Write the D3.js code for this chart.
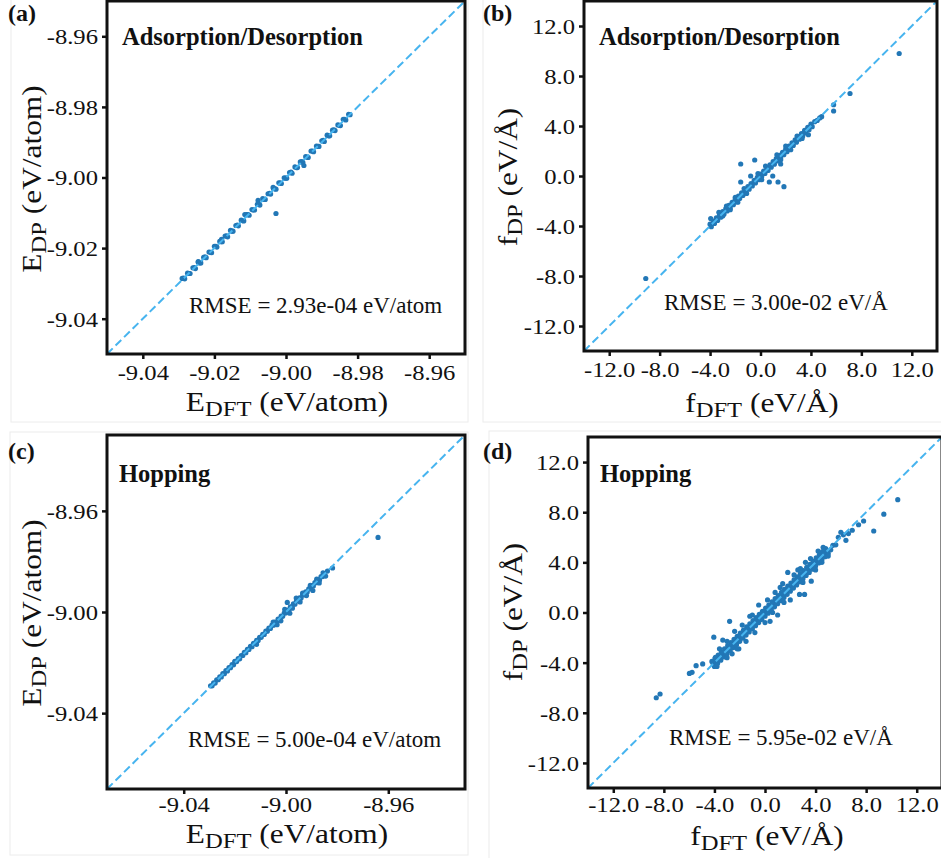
<!DOCTYPE html>
<html>
<head>
<meta charset="utf-8">
<script src="https://cdn.jsdelivr.net/npm/d3@7"></script>
<style>
body{margin:0;background:#fff;}
svg text{font-family:'Liberation Serif','Tinos','Times New Roman','DejaVu Serif',serif;fill:#111;}
</style>
</head>
<body>
<svg id="fig" width="941" height="858"></svg>
<script>
// ---- (a) energies, adsorption/desorption (eV/atom)
var adsEDft = [-9.029,-9.0275,-9.026,-9.0245,-9.023,-9.0215,-9.020,-9.0185,-9.017,-9.0155,-9.014,-9.0125,-9.011,-9.0095,-9.008,-9.0065,-9.005,-9.0035,-9.002,-9.0005,-8.999,-8.9975,-8.996,-8.9945,-8.993,-8.9915,-8.990,-8.9885,-8.987,-8.9855,-8.984,-8.9825,
  -9.0283,-9.0268,-9.0253,-9.0238,-9.0223,-9.0208,-9.0193,-9.0178,-9.0163,-9.0148,-9.0133,-9.0118,-9.0103,-9.0088,-9.0073,-9.0058,-9.0043,-9.0028,-9.0013,-8.9998,-8.9983,-8.9968,-8.9953,-8.9938,-8.9923,-8.9908,-8.9893,-8.9878,-8.9863,-8.9848,-8.9833,
  -9.0286,-9.0271,-9.0256,-9.0241,-9.0226,-9.0211,-9.0196,-9.0181,-9.0166,-9.0151,-9.0136,-9.0121,-9.0106,-9.0091,-9.0076,-9.0061,-9.0046,-9.0031,-9.0016,-9.0001,-8.9986,-8.9971,-8.9956,-8.9941,-8.9926,-8.9911,-8.9896,-8.9881,-8.9866,-8.9851,-8.9836,-8.9821,
  -9.0078,-9.0036,-8.995,-9.0028,-9.0115,-9.018,-9.0245];
var adsEDp = [-9.0286,-9.0271,-9.0256,-9.0240,-9.0226,-9.0211,-9.0195,-9.0181,-9.0166,-9.0150,-9.0136,-9.0121,-9.0105,-9.0091,-9.0076,-9.0060,-9.0046,-9.0031,-9.0015,-9.0001,-8.9986,-8.9970,-8.9956,-8.9941,-8.9925,-8.9911,-8.9896,-8.9880,-8.9866,-8.9851,-8.9835,-8.9821,
  -9.0287,-9.0272,-9.0258,-9.0242,-9.0227,-9.0213,-9.0197,-9.0182,-9.0168,-9.0152,-9.0137,-9.0123,-9.0107,-9.0092,-9.0078,-9.0062,-9.0047,-9.0033,-9.0017,-9.0002,-8.9988,-8.9972,-8.9957,-8.9943,-8.9927,-8.9912,-8.9898,-8.9882,-8.9867,-8.9853,-8.9837,
  -9.0285,-9.0272,-9.0255,-9.0242,-9.0225,-9.0212,-9.0195,-9.0182,-9.0165,-9.0152,-9.0135,-9.0122,-9.0105,-9.0092,-9.0075,-9.0062,-9.0045,-9.0032,-9.0015,-9.0002,-8.9985,-8.9972,-8.9955,-8.9942,-8.9925,-8.9912,-8.9895,-8.9882,-8.9865,-8.9852,-8.9835,-8.9822,
  -9.0065,-9.0028,-8.9966,-9.0102,-9.0105,-9.0175,-9.0238];

// ---- (b) forces, adsorption/desorption (eV/A)
var adsFDft = [-4.0,-3.75,-3.5,-3.25,-3.0,-2.75,-2.5,-2.25,-2.0,-1.75,-1.5,-1.25,-1.0,-0.75,-0.5,-0.25,0.0,0.25,0.5,0.75,1.0,1.25,1.5,1.75,2.0,2.25,2.5,2.75,3.0,3.25,3.5,3.75,4.0,
  -3.9,-3.65,-3.4,-3.15,-2.9,-2.65,-2.4,-2.15,-1.9,-1.65,-1.4,-1.15,-0.9,-0.65,-0.4,-0.15,0.1,0.35,0.6,0.85,1.1,1.35,1.6,1.85,2.1,2.35,2.6,2.85,3.1,3.35,3.6,3.85,4.1,
  4.3,4.5,4.7,4.85,3.8,-3.95,-9.1,11.0,7.1,5.8,5.8,
  -1.57,-0.46,-0.78,-1.57,0.97,1.6,0.7,1.39,1.86,
  -3.3,-3.0,-2.7,-2.4,-2.0,-1.8,-1.3,-1.1,-0.2,0.1,0.4,1.3,1.6,2.0,2.4,2.9,3.3,3.5];
var adsFDp = [-3.85,-3.6,-3.35,-3.1,-2.85,-2.6,-2.35,-2.1,-1.85,-1.6,-1.35,-1.1,-0.85,-0.6,-0.35,-0.1,0.15,0.4,0.65,0.9,1.15,1.4,1.65,1.9,2.15,2.4,2.65,2.9,3.15,3.4,3.65,3.9,4.15,
  -4.05,-3.8,-3.55,-3.3,-3.05,-2.8,-2.55,-2.3,-2.05,-1.8,-1.55,-1.3,-1.05,-0.8,-0.55,-0.3,-0.05,0.2,0.45,0.7,0.95,1.2,1.45,1.7,1.95,2.2,2.45,2.7,2.95,3.2,3.45,3.7,3.95,
  4.35,4.45,4.65,4.75,3.3,-3.4,-8.2,9.8,6.6,5.7,5.2,
  0.96,1.28,0.0,-0.48,0.0,0.96,-0.48,-0.48,-0.85,
  -2.9,-3.2,-2.4,-2.7,-1.7,-2.1,-1.0,-1.4,0.2,-0.3,0.8,1.7,1.3,2.4,2.1,3.2,3.0,3.5];

// ---- (c) energies, hopping (eV/atom)
var hopEDft = [-9.0295,-9.0283,-9.0271,-9.0259,-9.0247,-9.0235,-9.0223,-9.0211,-9.0199,-9.0187,-9.0175,-9.0163,-9.0151,-9.0139,-9.0127,-9.0115,-9.0103,-9.0091,-9.0079,-9.0067,-9.0055,-9.0043,-9.0031,-9.0019,-9.0007,-8.9995,-8.9983,-8.9971,-8.9959,-8.9947,-8.9935,-8.9923,-8.9911,-8.9899,-8.9887,-8.9875,-8.9863,-8.9851,
  -9.0289,-9.0277,-9.0265,-9.0253,-9.0241,-9.0229,-9.0217,-9.0205,-9.0193,-9.0181,-9.0169,-9.0157,-9.0145,-9.0133,-9.0121,-9.0109,-9.0097,-9.0085,-9.0073,-9.0061,-9.0049,-9.0037,-9.0025,-9.0013,-9.0001,-8.9989,-8.9977,-8.9965,-8.9953,-8.9941,-8.9929,-8.9917,-8.9905,-8.9893,-8.9881,-8.9869,-8.9857,
  -8.964,-8.9818,-8.9838,-8.9845,-8.9855,-8.987,-8.988,-8.9895,-8.9905,-8.992,-8.9935,-8.9945,-8.996,-8.9975,-8.9995,-8.9985,-9.0005,-9.002,-9.005,-9.0035,-9.0115,-9.020];
var hopEDp = [-9.0292,-9.0280,-9.0268,-9.0256,-9.0244,-9.0232,-9.0220,-9.0208,-9.0196,-9.0184,-9.0172,-9.0160,-9.0148,-9.0136,-9.0124,-9.0112,-9.0100,-9.0088,-9.0076,-9.0064,-9.0052,-9.0040,-9.0028,-9.0016,-9.0004,-8.9992,-8.9980,-8.9968,-8.9956,-8.9944,-8.9932,-8.9920,-8.9908,-8.9896,-8.9884,-8.9872,-8.9860,-8.9848,
  -9.0292,-9.0281,-9.0268,-9.0257,-9.0244,-9.0233,-9.0220,-9.0209,-9.0196,-9.0185,-9.0172,-9.0161,-9.0148,-9.0137,-9.0124,-9.0113,-9.0100,-9.0089,-9.0076,-9.0065,-9.0052,-9.0041,-9.0028,-9.0017,-9.0004,-8.9993,-8.9980,-8.9969,-8.9956,-8.9945,-8.9932,-8.9921,-8.9908,-8.9897,-8.9884,-8.9873,-8.9860,
  -8.9705,-8.9826,-8.9838,-8.9858,-8.9845,-8.9885,-8.9870,-8.9915,-8.9895,-8.9935,-8.9925,-8.9960,-8.9945,-8.9985,-8.9962,-9.0005,-8.9990,-9.0035,-9.0040,-9.0050,-9.0128,-9.0195];

// ---- (d) forces, hopping (eV/A)
var hopFDft = [-4.2,-3.95,-3.7,-3.45,-3.2,-2.95,-2.7,-2.45,-2.2,-1.95,-1.7,-1.45,-1.2,-0.95,-0.7,-0.45,-0.2,0.05,0.3,0.55,0.8,1.05,1.3,1.55,1.8,2.05,2.3,2.55,2.8,3.05,3.3,3.55,3.8,4.05,4.3,4.55,4.8,
  -4.1,-3.85,-3.6,-3.35,-3.1,-2.85,-2.6,-2.35,-2.1,-1.85,-1.6,-1.35,-1.1,-0.85,-0.6,-0.35,-0.1,0.15,0.4,0.65,0.9,1.15,1.4,1.65,1.9,2.15,2.4,2.65,2.9,3.15,3.4,3.65,3.9,4.15,4.4,4.65,4.9,
  -4.0,-3.75,-3.5,-3.25,-3.0,-2.75,-2.5,-2.25,-2.0,-1.75,-1.5,-1.25,-1.0,-0.75,-0.5,-0.25,0.0,0.25,0.5,0.75,1.0,1.25,1.5,1.75,2.0,2.25,2.5,2.75,3.0,3.25,3.5,3.75,4.0,4.25,4.5,4.75,5.0,
  -8.6,-8.3,10.5,9.4,8.6,7.8,7.4,6.9,6.4,6.2,6.0,5.8,5.6,5.37,5.2,6.6,3.66,3.13,2.73,1.8,-2.07,-2.8,-4.05,-3.34,-5.45,-4.93,-5.77,-5.98,-3.92,
  -0.5,0.4,-1.2,1.0,2.0,2.6,3.2,-1.5,-2.4,1.4,0.2,-0.8,4.2,4.5,-3.0,-3.6,
  -3.0,-2.2,-1.0,0.0,0.8,1.5,2.3,3.0,3.6,4.0,-3.8,-2.6,-1.8,0.6,1.2,2.8,4.6,5.0];
var hopFDp = [-3.9,-3.65,-3.4,-3.15,-2.9,-2.65,-2.4,-2.15,-1.9,-1.65,-1.4,-1.15,-0.9,-0.65,-0.4,-0.15,0.1,0.35,0.6,0.85,1.1,1.35,1.6,1.85,2.1,2.35,2.6,2.85,3.1,3.35,3.6,3.85,4.1,4.35,4.6,4.85,5.1,
  -4.1,-3.85,-3.6,-3.35,-3.1,-2.85,-2.6,-2.35,-2.1,-1.85,-1.6,-1.35,-1.1,-0.85,-0.6,-0.35,-0.1,0.15,0.4,0.65,0.9,1.15,1.4,1.65,1.9,2.15,2.4,2.65,2.9,3.15,3.4,3.65,3.9,4.15,4.4,4.65,4.9,
  -4.3,-4.05,-3.8,-3.55,-3.3,-3.05,-2.8,-2.55,-2.3,-2.05,-1.8,-1.55,-1.3,-1.05,-0.8,-0.55,-0.3,-0.05,0.2,0.45,0.7,0.95,1.2,1.45,1.7,1.95,2.2,2.45,2.7,2.95,3.2,3.45,3.7,3.95,4.2,4.45,4.7,
  -6.8,-6.5,9.0,7.84,6.5,7.3,7.0,6.56,5.76,6.2,6.4,6.0,5.4,5.36,5.0,6.3,2.5,1.44,1.44,3.2,-2.9,-0.7,-1.97,-2.2,-4.24,-4.1,-4.77,-4.86,-3.57,
  0.6,-0.7,-0.3,-0.2,1.0,3.4,4.0,-2.3,-1.5,2.3,1.0,-1.6,4.9,4.0,-3.6,-2.9,
  -2.3,-2.9,-0.2,-0.8,1.6,0.8,3.0,2.4,4.3,3.4,-4.3,-3.3,-1.0,0.0,2.0,3.5,5.2,4.5];

// tick values
var eTicksA = [-9.04, -9.02, -9.00, -8.98, -8.96];
var eTicksC = [-9.04, -9.00, -8.96];
var fTicks = [-12, -8, -4, 0, 4, 8, 12];

var FONT = "'Liberation Serif','Tinos','Times New Roman','DejaVu Serif',serif";
var WIDE = 1.12;   // the source lettering is a bit wider than Liberation Serif
var svg = d3.select('#fig');

// faint frames around the four sub-figures
var boxes = [[11, -2, 468, 422], [483, -2, 945, 422], [10, 432, 468, 855], [489, 431, 945, 862]];
svg.selectAll('rect.box').data(boxes).enter().append('rect')
  .attr('class', 'box')
  .attr('x', function(d) { return d[0]; }).attr('y', function(d) { return d[1]; })
  .attr('width', function(d) { return d[2] - d[0]; }).attr('height', function(d) { return d[3] - d[1]; })
  .attr('fill', 'none').attr('stroke', '#ececec').attr('stroke-width', 1);

var panels = [
  {letter: '(a)', lx: 8, ly: 21, box: [107, 1, 465, 354], dom: [-9.05, -8.95], ticks: eTicksA, dec: 2, tly: 26,
   dft: adsEDft, dp: adsEDp, title: 'Adsorption/Desorption', tx: 122, ty: 45,
   rmse: 'RMSE = 2.93e-04 eV/atom', rx: 189, ry: 313, sym: 'E', unit: ' (eV/atom)', xlx: 287, xly: 411, ylx: 41, yly: 179},
  {letter: '(b)', lx: 483, ly: 21, box: [584, 1, 937, 351], dom: [-14, 14], ticks: fTicks, dec: 1, tly: 26,
   dft: adsFDft, dp: adsFDp, title: 'Adsorption/Desorption', tx: 599, ty: 45,
   rmse: 'RMSE = 3.00e-02 eV/Å', rx: 664, ry: 310, sym: 'f', unit: ' (eV/Å)', xlx: 762, xly: 412, ylx: 517, yly: 177},
  {letter: '(c)', lx: 8, ly: 459, box: [107, 435, 465, 789], dom: [-9.07, -8.93], ticks: eTicksC, dec: 2, tly: 23,
   dft: hopEDft, dp: hopEDp, title: 'Hopping', tx: 119, ty: 482,
   rmse: 'RMSE = 5.00e-04 eV/atom', rx: 188, ry: 747, sym: 'E', unit: ' (eV/atom)', xlx: 287, xly: 843, ylx: 41, yly: 613},
  {letter: '(d)', lx: 483, ly: 459, box: [588, 437, 942, 788], dom: [-14, 14], ticks: fTicks, dec: 1, tly: 24,
   dft: hopFDft, dp: hopFDp, title: 'Hopping', tx: 600, ty: 482,
   rmse: 'RMSE = 5.95e-02 eV/Å', rx: 669, ry: 745, sym: 'f', unit: ' (eV/Å)', xlx: 767, xly: 845, ylx: 522, yly: 612}
];

panels.forEach(drawPanel);

function drawPanel(p) {
  var x0 = p.box[0], y0 = p.box[1], x1 = p.box[2], y1 = p.box[3];
  var x = d3.scaleLinear().domain(p.dom).range([x0, x1]);
  var y = d3.scaleLinear().domain(p.dom).range([y1, y0]);
  var fmt = function(d) { return d.toFixed(p.dec); };
  var g = svg.append('g');

  // scatter
  g.append('g').selectAll('circle')
    .data(d3.zip(p.dft, p.dp)).enter()
    .append('circle')
    .attr('cx', function(d) { return x(d[0]); })
    .attr('cy', function(d) { return y(d[1]); })
    .attr('r', 2.6)
    .attr('fill', '#2277b6');

  // y = x reference
  g.append('line')
    .attr('x1', x(p.dom[0])).attr('y1', y(p.dom[0]))
    .attr('x2', x(p.dom[1])).attr('y2', y(p.dom[1]))
    .attr('stroke', '#47b4ef').attr('stroke-width', 2).attr('stroke-dasharray', '8,4');

  // axes
  var ax = g.append('g').attr('transform', 'translate(0,' + y1 + ')')
    .call(d3.axisBottom(x).tickValues(p.ticks).tickFormat(fmt).tickSize(5).tickSizeOuter(0));
  var ay = g.append('g').attr('transform', 'translate(' + x0 + ',0)')
    .call(d3.axisLeft(y).tickValues(p.ticks).tickFormat(fmt).tickSize(5).tickSizeOuter(0));
  [ax, ay].forEach(function(a) {
    a.attr('font-family', FONT);
    a.select('.domain').remove();
    a.selectAll('line').attr('stroke', '#111').attr('stroke-width', 2.5);
    a.selectAll('text').attr('font-size', 22).attr('fill', '#111')
      .attr('transform', 'scale(' + WIDE + ',1)');
  });
  ax.selectAll('text').attr('dy', null).attr('y', p.tly);
  ay.selectAll('text').attr('x', -9 / WIDE).attr('dy', '0.34em');

  // frame
  g.append('rect')
    .attr('x', x0).attr('y', y0).attr('width', x1 - x0).attr('height', y1 - y0)
    .attr('fill', 'none').attr('stroke', '#111').attr('stroke-width', 3);

  // labels
  svg.append('text').attr('x', p.lx).attr('y', p.ly).attr('font-family', FONT)
    .attr('font-size', 24).attr('font-weight', 'bold').text(p.letter);
  svg.append('text').attr('x', p.tx).attr('y', p.ty).attr('font-family', FONT)
    .attr('font-size', 24.5).attr('font-weight', 'bold').text(p.title);
  svg.append('text').attr('x', p.rx).attr('y', p.ry).attr('font-family', FONT)
    .attr('font-size', 23).text(p.rmse);

  axisLabel(p.xlx, p.xly, 0, p.sym, 'DFT', p.unit);
  axisLabel(p.ylx, p.yly, -90, p.sym, 'DP', p.unit);
}

function axisLabel(cx, cy, rot, sym, sub, unit) {
  var t = svg.append('text')
    .attr('transform', 'translate(' + cx + ',' + cy + ') rotate(' + rot + ') scale(' + WIDE + ',1)')
    .attr('text-anchor', 'middle').attr('font-family', FONT).attr('font-size', 28);
  t.append('tspan').text(sym);
  t.append('tspan').attr('font-size', 22).attr('dy', 5).text(sub);
  t.append('tspan').attr('dy', -5).text(unit);
}
</script>
</body>
</html>
